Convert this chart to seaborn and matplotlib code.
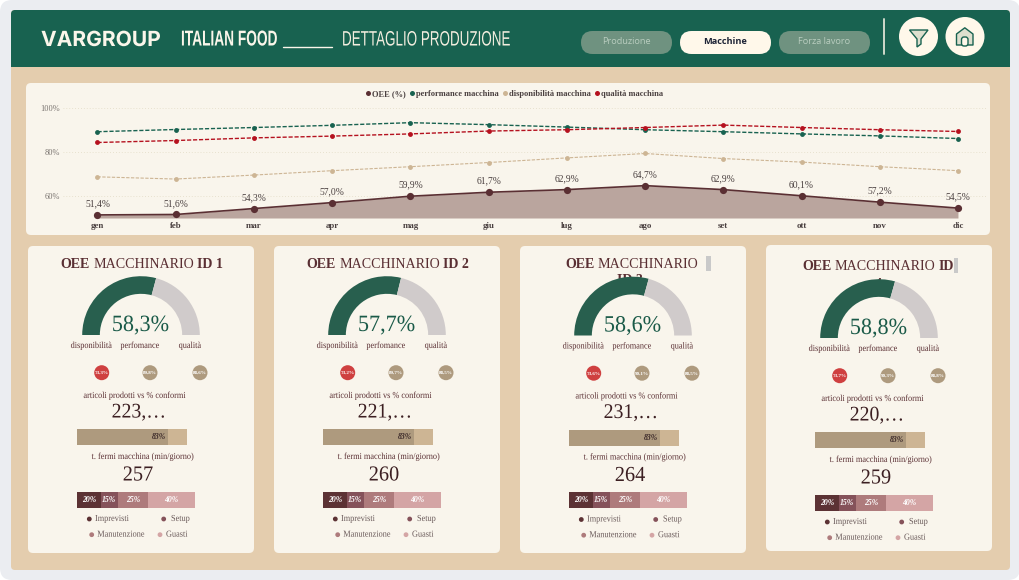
import matplotlib
matplotlib.use('Agg')
import matplotlib.pyplot as plt
import seaborn as sns
import pandas as pd
from matplotlib.patches import FancyBboxPatch, Rectangle, Circle, Polygon
from matplotlib.lines import Line2D
from matplotlib.patheffects import AbstractPathEffect
from matplotlib.transforms import Affine2D

W, H = 1020, 580

mesi = ['gen', 'feb', 'mar', 'apr', 'mag', 'giu', 'lug', 'ago', 'set', 'ott', 'nov', 'dic']
oee_mese = [51.4, 51.6, 54.3, 57.0, 59.9, 61.7, 62.9, 64.7, 62.9, 60.1, 57.2, 54.5]
perf_mese = [89.2, 90.2, 91.1, 92.1, 93.3, 92.4, 91.3, 90.1, 89.2, 88.2, 87.3, 86.1]
disp_mese = [68.7, 67.7, 69.5, 71.5, 73.3, 75.2, 77.3, 79.3, 77.0, 75.4, 73.3, 71.5]
qual_mese = [84.3, 85.2, 86.4, 87.2, 88.2, 89.5, 90.1, 91.1, 92.2, 91.1, 90.1, 89.3]

oee_id = [58.3, 57.7, 58.6, 58.8]
disp_id = [73.3, 73.2, 73.6, 73.7]
perf_id = [89.8, 89.7, 90.1, 90.3]
qual_id = [88.6, 88.5, 88.5, 88.8]
articoli = ['223,…', '221,…', '231,…', '220,…']
conformi = [83, 83, 83, 83]
fermi = [257, 260, 264, 259]
cause = ['Imprevisti', 'Setup', 'Manutenzione', 'Guasti']
cause_pct = [20, 15, 25, 40]

VERDE = '#186250'
MARRONE = '#5A2F33'
CREMA = '#F9F5EC'
TAN = '#CDB594'
cause_col = ['#5C3234', '#85525A', '#AE7B7C', '#D4A5A5']

sns.set_theme(style='white')
plt.rcParams['font.family'] = ['Liberation Serif', 'DejaVu Serif']


class Squeeze(AbstractPathEffect):
    # horizontal scale of the glyphs, no condensed font is installed
    def __init__(self, sx, x0):
        super().__init__()
        self.sx, self.x0 = sx, x0

    def draw_path(self, renderer, gc, tpath, affine, rgbFace=None):
        a = affine + Affine2D().translate(-self.x0, 0).scale(self.sx, 1).translate(self.x0, 0)
        renderer.draw_path(gc, tpath, a, rgbFace)


def squeezed(x, y, s, width, **kw):
    t = base.text(x, y, s, va='center', zorder=5, **kw)
    ext = t.get_window_extent(fig.canvas.get_renderer())
    t.set_path_effects([Squeeze(width / ext.width, ext.x0)])
    return t


def cond(x, y, s, size, sx=0.9, ha='center', **kw):
    # serif text, taller and narrower than the plain font
    kw.setdefault('color', MARRONE)
    t = base.text(x, y, s, fontsize=size, ha=ha, va='center', zorder=6, **kw)
    t.set_path_effects([Squeeze(sx, x)])


def pct(v):
    return f'{v:.1f}'.replace('.', ',') + '%'


def px_axes(x, y, w, h, z=2):
    ax = fig.add_axes([x / W, 1 - (y + h) / H, w / W, h / H], zorder=z)
    ax.patch.set_alpha(0)
    return ax


def box(x0, y0, x1, y1, color, r=6, z=1):
    base.add_patch(FancyBboxPatch((x0, y0), x1 - x0, y1 - y0, boxstyle=f'round,pad=0,rounding_size={r}',
                                  fc=color, ec='none', zorder=z))


fig = plt.figure(figsize=(W / 100, H / 100), dpi=100, facecolor='white')
base = fig.add_axes([0, 0, 1, 1], zorder=0)
base.set_xlim(0, W)
base.set_ylim(H, 0)
base.axis('off')

# window and header
box(0, 0, W, H, '#EBEDF1', r=12, z=0)
box(11, 10, 1010, 570, '#E4CDAE', r=4, z=1)
box(11, 10, 1010, 40, VERDE, r=4, z=2)
base.add_patch(Rectangle((11, 25), 999, 42, fc=VERDE, ec='none', zorder=2))

squeezed(41, 40, 'VARGROUP', 120, color='#FBF6EA', fontsize=15, fontweight='bold', family='Inter')
squeezed(181, 40, 'ITALIAN FOOD', 96, color='#FBF6EA', fontsize=15.5, fontweight='bold', family='Liberation Sans')
base.plot([283, 332], [46.5, 46.5], color='#FBF6EA', lw=1, zorder=5)
squeezed(342, 40, 'DETTAGLIO PRODUZIONE', 169, color='#F3EEDF', fontsize=15, family='Liberation Sans')

for x0, lab, fc, tc, fw in [(581, 'Produzione', '#6F9280', '#B9CDBF', 'normal'),
                            (680, 'Macchine', '#FFF8EA', '#1D2436', 'bold'),
                            (779, 'Forza lavoro', '#6F9280', '#B9CDBF', 'normal')]:
    box(x0, 31, x0 + 91, 54, fc, r=11.5, z=3)
    base.text(x0 + 45.5, 41.7, lab, color=tc, fontsize=6.6, fontweight=fw, family='Open Sans',
              ha='center', va='center', zorder=5)
base.plot([884, 884], [19, 54], color='#CFDACB', lw=1.4, zorder=4)
for cx in [918.5, 965]:
    base.add_patch(Circle((cx, 36.5), 19.5, fc='#FFF8EA', ec='none', zorder=4))
base.add_patch(Polygon([(909.5, 30), (928, 30), (921, 39), (921, 44), (917, 47), (917, 39)],
                       fc='#DDDFCE', ec=VERDE, lw=1, zorder=5))
base.add_patch(Polygon([(956.5, 45), (956.5, 34), (964.8, 27.8), (973, 34), (973, 45)],
                       fc='#DDDFCE', ec=VERDE, lw=1, joinstyle='round', zorder=5))
base.add_patch(FancyBboxPatch((961.5, 37), 6.5, 9, boxstyle='round,pad=0,rounding_size=2.5',
                              fc='#FFF8EA', ec=VERDE, lw=1, zorder=6))

# monthly panel
box(26, 83, 990, 235, CREMA, r=5, z=3)
ax = px_axes(63, 100, 925, 118)
df = pd.DataFrame({'mese': range(12), 'oee': oee_mese, 'perf': perf_mese, 'disp': disp_mese, 'qual': qual_mese})
ax.fill_between(df['mese'], 50, df['oee'], color='#BAA59E', lw=0, zorder=1)
for col, c, lw in [('disp', '#CDB594', 0.8), ('perf', VERDE, 1.0), ('qual', '#B5111F', 1.0)]:
    sns.lineplot(data=df, x='mese', y=col, ax=ax, color=c, lw=lw, marker='o', ms=3.5, mew=0,
                 linestyle=(0, (3, 1.3)), zorder=3, clip_on=False)
sns.lineplot(data=df, x='mese', y='oee', ax=ax, color=MARRONE, lw=1.2, marker='o', ms=5.2, mew=0, zorder=4, clip_on=False)
for i, v in enumerate(oee_mese):
    ax.annotate(pct(v), (i, v), xytext=(0, 8), textcoords='offset points', ha='center', va='center',
                fontsize=6.9, color='#4A4040', zorder=5)
ax.set_xlim(-0.441, 11.384)
ax.set_ylim(50, 103.6)
ax.set_xticks(range(12), mesi)
ax.set_yticks([60, 80, 100], ['60%', '80%', '100%'])
ax.tick_params(axis='x', length=0, pad=3, labelsize=6.4, colors='#4A4040')
ax.tick_params(axis='y', length=0, pad=2, labelsize=6.0, colors='#7A7470')
for t in ax.get_xticklabels():
    t.set_fontweight('bold')
ax.grid(axis='y', color='#E2DBC5', lw=0.6, ls=(0, (1, 2.5)))
ax.set_axisbelow(True)
ax.set_xlabel('')
ax.set_ylabel('')
sns.despine(ax=ax, left=True, bottom=True)
handles = [Line2D([], [], color=c, marker='o', ms=3.6, ls='', mew=0) for c in [MARRONE, VERDE, '#CDB594', '#B5111F']]
ax.legend(handles, ['OEE (%)', 'performance macchina', 'disponibilità macchina', 'qualità macchina'],
          ncol=4, frameon=False, loc='center', bbox_to_anchor=(0.488, 1.05), handlelength=0.6, handletextpad=0.2,
          columnspacing=0.45, prop={'size': 6.0, 'weight': 'bold'}, labelcolor='#4A4040', borderpad=0)

# machine cards
offs = [(0, 0), (246, 0), (492, 0.5), (738, 3)]
tops = [(28, 254, 246, 553), (274, 500, 246, 553), (520, 746, 246, 553), (766, 992, 245, 551)]
title_x = [60.7, 306.5, 565, 802]
for n in range(4):
    dx, dy = offs[n]
    x0, x1, y0, y1 = tops[n]
    box(x0, y0, x1, y1, CREMA, r=5, z=3)

    # title, bold and regular runs
    tx = title_x[n]
    ty = 264.5 + (2 if n == 3 else 0)
    runs = [('OEE', 'bold'), ('MACCHINARIO', 'normal')]
    if n < 2:
        runs.append((f'ID {n + 1}', 'bold'))
    if n == 3:
        runs.append(('ID', 'bold'))
    for s, fw in runs:
        t = base.text(tx, ty, s, color=MARRONE, fontsize=10.1, fontweight=fw, va='center', zorder=6)
        tx = t.get_window_extent(fig.canvas.get_renderer()).x1 + 3.4
    if n >= 2:
        s = 'ID 3' if n == 2 else '4'
        t2 = base.text(630 if n == 2 else 878, 281 if n == 2 else 284.5, s, color=MARRONE, fontsize=10.1,
                       fontweight='bold', ha='center', va='center', zorder=5)
        t2.set_clip_path(Rectangle((x0, y0), 226, 280 - y0, transform=base.transData))
    if n == 2:
        base.add_patch(Rectangle((706.5, 256), 4.5, 15, fc='#C9C9C9', ec='none', zorder=6))
    if n == 3:
        base.add_patch(Rectangle((954, 258), 4.5, 15, fc='#C9C9C9', ec='none', zorder=6))

    # gauge
    cx, by = 141 + dx, 335 + dy
    g = px_axes(cx - 58.8, by - 58.8, 117.6, 117.6, z=3)
    g.pie([oee_id[n], 100 - oee_id[n], 100], colors=['#285F4E', '#D0CBCB', 'none'], startangle=180, counterclock=False,
          radius=1, wedgeprops={'width': 0.3, 'lw': 0})
    g.set_xlim(-1, 1)
    g.set_ylim(-1, 1)
    cond(cx - 0.5, by - 9.5, pct(oee_id[n]), 16.8, sx=0.95, color='#1A5A48')
    for lx, s in [(91.5, 'disponibilità'), (140, 'perfomance'), (190, 'qualità')]:
        cond(lx + dx, 346 + dy, s, 6.6)

    # kpi dots
    for lx, v, c in [(101.7, disp_id[n], '#CF4040'), (150, perf_id[n], '#AE9A7E'), (200, qual_id[n], '#AE9A7E')]:
        base.add_patch(Circle((lx + dx, 372.7 + dy), 7.5, fc=c, ec='none', zorder=5))
        base.text(lx + dx, 372.9 + dy, pct(v), color='white', fontsize=3.7, fontweight='bold',
                  ha='center', va='center', zorder=6)

    cond(135 + dx, 396 + dy, 'articoli prodotti vs % conformi', 6.6)
    cond(139 + dx, 413 + dy, articoli[n], 15, sx=0.95, color='#3C1F22')

    # conformi bar
    b = px_axes(76.7 + dx, 429 + dy, 110, 16, z=3)
    sns.barplot(x=[100], y=[0], orient='h', color=TAN, saturation=1, width=1, ax=b, lw=0)
    sns.barplot(x=[conformi[n]], y=[0], orient='h', color='#AE9A7E', saturation=1, width=1, ax=b, lw=0)
    b.set_xlim(0, 100)
    b.axis('off')
    b.text(conformi[n] - 2, 0, f'{conformi[n]}%', color='#3C2A2A', fontsize=5.6, fontstyle='italic',
           fontweight='bold', ha='right', va='center')

    cond(143 + dx, 457 + dy, 't. fermi macchina (min/giorno)', 6.6)
    cond(138 + dx, 476 + dy, str(fermi[n]), 15.4, sx=0.95, color='#3C1F22')

    # downtime causes, cumulative bars drawn from the longest
    c_ax = px_axes(77 + dx, 491.7 + dy, 117.7, 16, z=3)
    cum = 100
    for v, c in zip(cause_pct[::-1], cause_col[::-1]):
        sns.barplot(x=[cum], y=[0], orient='h', color=c, saturation=1, width=1, ax=c_ax, lw=0)
        cum -= v
        c_ax.text(cum + v / 2, 0, f'{v}%', color='white', fontsize=5.6, fontstyle='italic',
                  fontweight='bold', ha='center', va='center')
    c_ax.set_xlim(0, 100)
    c_ax.axis('off')

    legend_pos = [(89.3, 519, 95), (163.7, 519, 171), (91.7, 534.7, 97.3), (160, 534.7, 166)]
    for (lx, ly, sx), s, c in zip(legend_pos, cause, cause_col):
        base.add_patch(Circle((lx + dx, ly + dy), 2.4, fc=c, ec='none', zorder=5))
        cond(sx + dx, ly + dy, s, 6.6, ha='left', color='#6A5A5A')

fig.savefig('out.png', dpi=100)
